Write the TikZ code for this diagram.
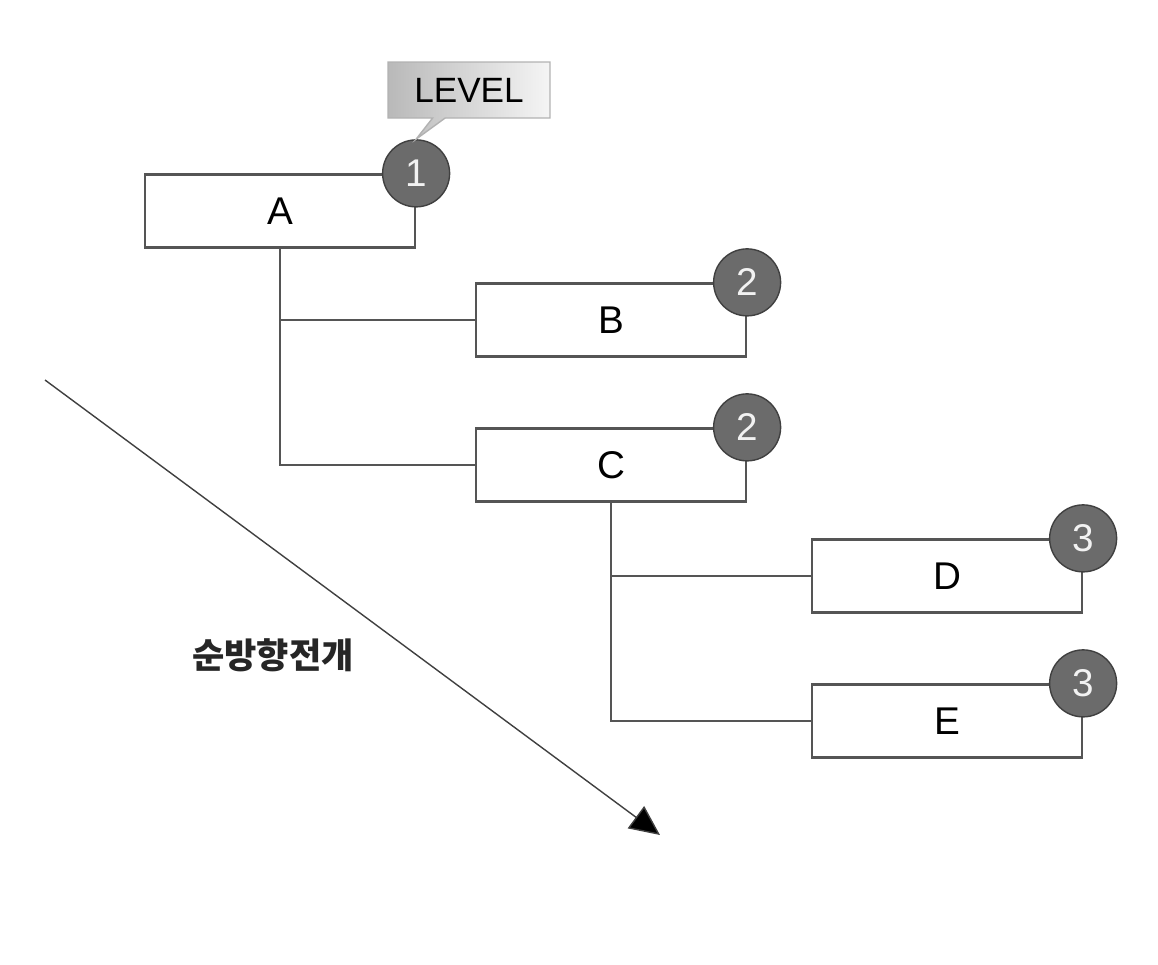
\documentclass[tikz,border=0pt]{standalone}
\usepackage{fontspec}
\setmainfont{Liberation Sans}
\newfontfamily\krfont{Noto Sans CJK KR}
\usetikzlibrary{arrows.meta,shapes.callouts}
\definecolor{ballgray}{HTML}{6B6B6B}
\definecolor{linegray}{HTML}{555555}
\tikzset{
  levelbox/.style={draw=linegray, line width=1.3pt, fill=white, rectangle, minimum width=5.4cm, minimum height=1.46cm, font=\fontsize{22}{24}\selectfont},
  levelball/.style={circle, draw=black!75, line width=0.8pt, fill=ballgray, text=gray!10, minimum size=1.34cm, inner sep=0pt, font=\fontsize{22}{24}\selectfont},
  link/.style={draw=linegray, line width=1pt},
}
\begin{document}
\begin{tikzpicture}[x=0.02cm, y=-0.02cm]
  \useasboundingbox (0,0) rectangle (1158,964);
  \path
    (280,211) node[levelbox] (A){A}
    (611,320) node[levelbox] (B){B}
    (611,465) node[levelbox] (C){C}
    (947,576) node[levelbox] (D){D}
    (947,721) node[levelbox] (E){E};
  \begin{scope}[link]
    \draw (A.south) |- (B.west);
    \draw (A.south) |- (C.west);
    \draw (C.south) |- (D.west);
    \draw (C.south) |- (E.west);
  \end{scope}
  \path
    (A.north east) node[levelball] (lvA){1}
    (B.north east) node[levelball] (lvB){2}
    (C.north east) node[levelball] (lvC){2}
    (D.north east) node[levelball] (lvD){3}
    (E.north east) node[levelball] (lvE){3};
  \node[rectangle callout, callout absolute pointer={(lvA.north)}, draw=gray!60, line width=0.8pt,
        left color=gray!55, right color=gray!8, minimum width=3.24cm, minimum height=1.12cm,
        font=\fontsize{20}{22}\selectfont] (level) at (469,90) {LEVEL};
  \coordinate (from) at (45,380);
  \coordinate (to) at (660,835);
  \draw[draw=black!75, line width=0.8pt, -{Triangle[length=0.6cm, width=0.55cm, fill=black]}] (from) -- (to);
  \node[font=\krfont\bfseries\fontsize{20}{22}\selectfont, text=black!85] (fwd) at (273,655) {순방향전개};
\end{tikzpicture}
\end{document}
